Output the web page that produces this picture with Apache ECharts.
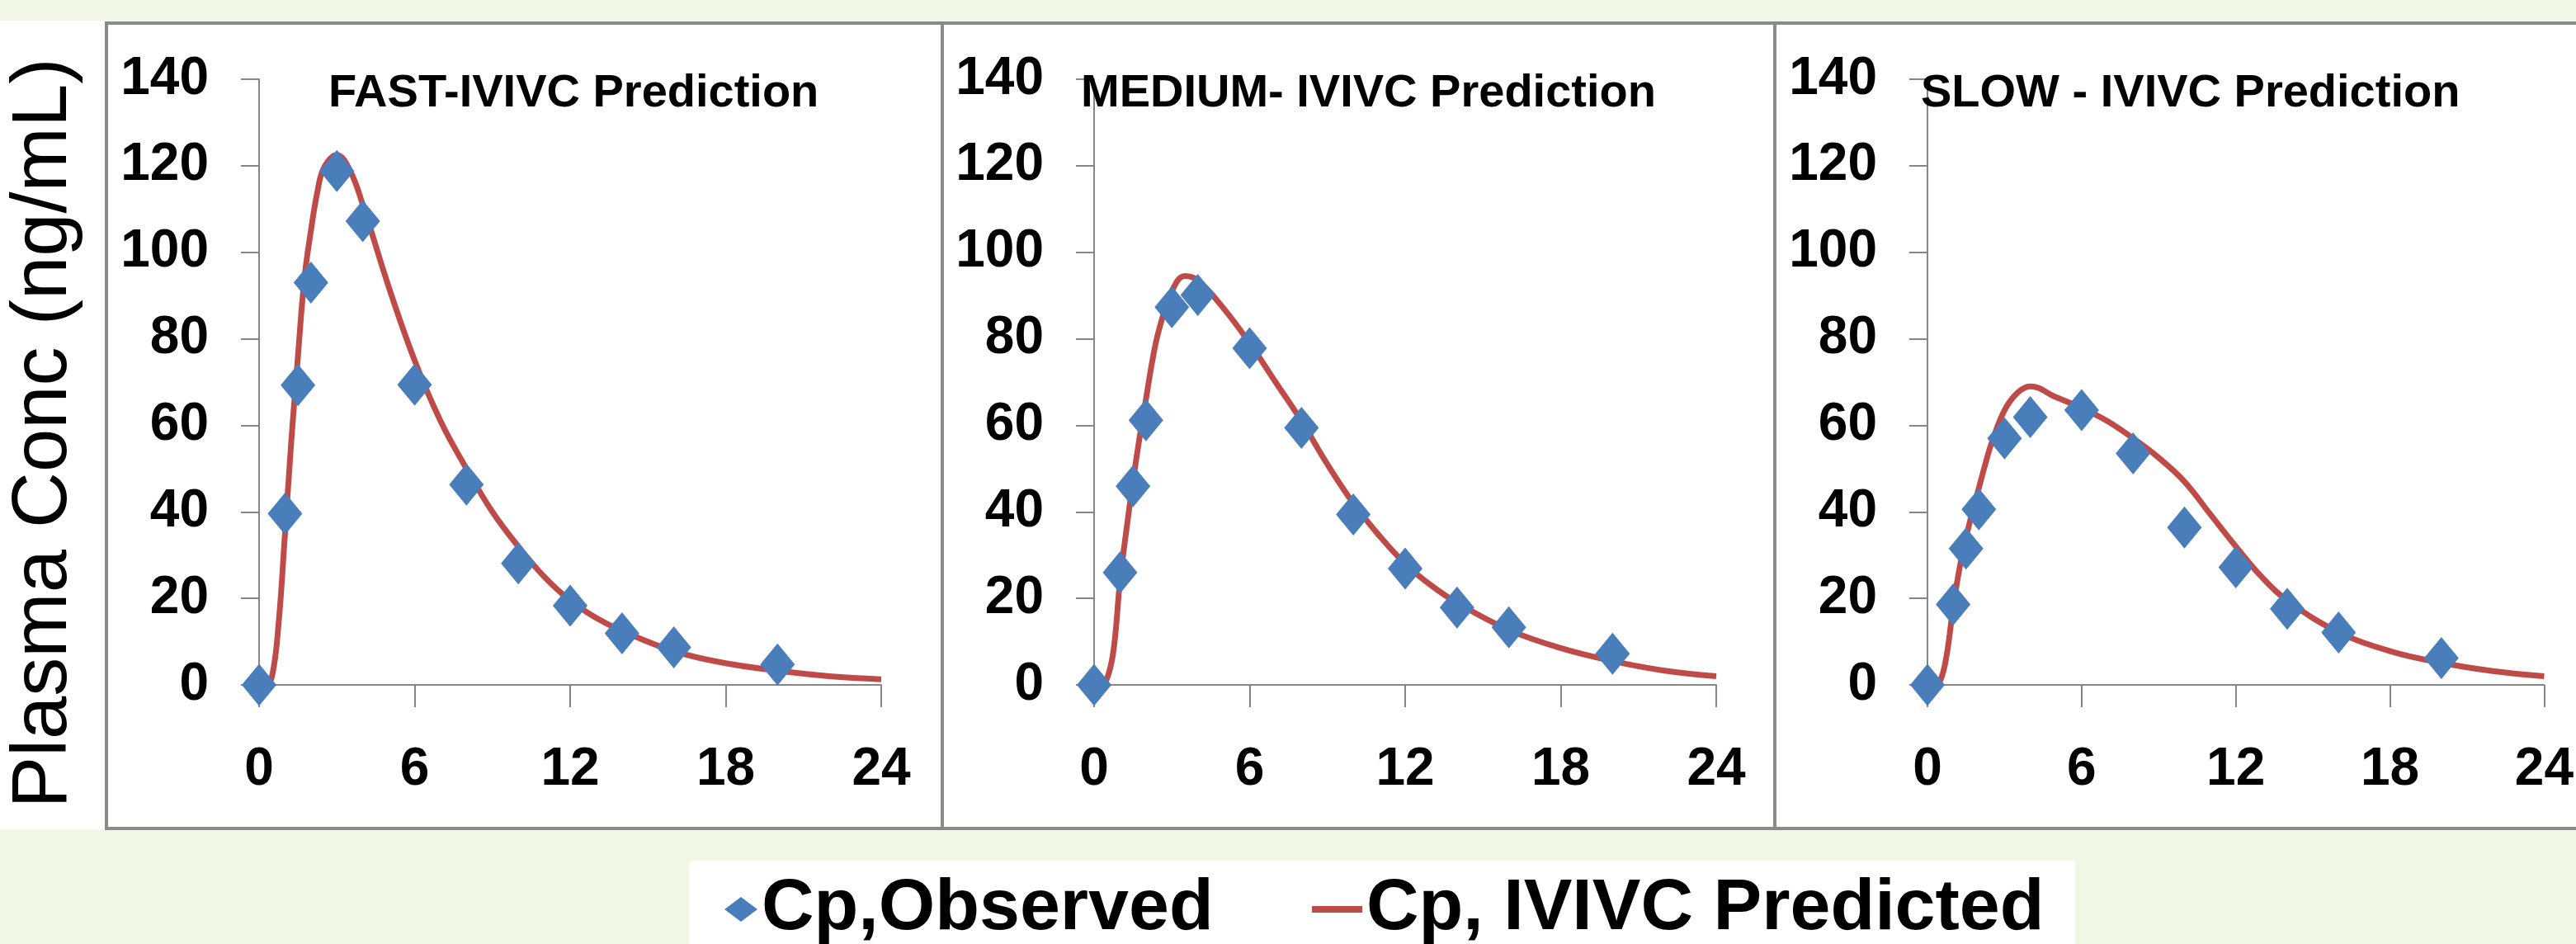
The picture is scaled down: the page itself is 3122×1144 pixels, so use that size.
<!DOCTYPE html>
<html>
<head>
<meta charset="utf-8">
<script src="https://cdn.jsdelivr.net/npm/echarts@6/dist/echarts.min.js"></script>
<style>html,body{margin:0;padding:0;background:#f0f7e5}#c{width:3122px;height:1144px}</style>
</head>
<body>
<div id="c"></div>
<script>
// ---- data ----
const panelTitles = ['FAST-IVIVC Prediction', 'MEDIUM- IVIVC Prediction', 'SLOW - IVIVC Prediction'];
const xTickLabels = [0, 6, 12, 18, 24];
const yTickLabels = [0, 20, 40, 60, 80, 100, 120, 140];
const obsTimes = [0, 1, 1.5, 2, 3, 4, 6, 8, 10, 12, 14, 16, 20];
const fastObs   = [0, 39.6, 69.3, 93, 118.8, 107.2, 69.4, 46.3, 28.1, 18.3, 11.9, 8.7, 4.7];
const mediumObs = [0, 26, 45.9, 61.2, 87.3, 90.1, 77.8, 59.4, 39.4, 26.9, 17.9, 13.3, 7.2];
const slowObs   = [0, 18.6, 31.5, 40.6, 57, 61.9, 63.5, 53.5, 36.4, 27.2, 17.6, 12.1, 6.2];
const predTimes  = [0, 0.25, 0.5, 0.75, 1, 1.25, 1.5, 1.75, 2, 2.25, 2.5, 3, 3.5, 4, 5, 6, 7, 8, 9, 10, 11, 12, 13, 14, 16, 18, 20, 22, 24];
const fastPred   = [0, 0, 2, 14, 35, 57, 76, 94, 105, 114, 119.5, 122.5, 119, 111, 92, 75, 61, 50, 40, 32, 25, 19.5, 15.5, 12.5, 7.8, 5, 3.3, 2.0, 1.3];
const mediumPred = [0, 0, 1.5, 8, 24, 36, 47, 57, 66, 75, 82, 91, 94.5, 93.5, 87, 79, 70, 61, 51, 42, 34.5, 28, 23, 19, 12.7, 8.5, 5.5, 3.3, 2.0];
const slowPred   = [0, 0, 1, 7, 18, 27, 34, 40, 45.5, 51, 56, 63.5, 67.5, 69, 66.5, 64, 61, 57, 52.5, 47, 39.5, 32, 25, 19.5, 12.2, 7.8, 5.1, 3.2, 2.0];
const obsName = 'Cp,Observed';
const predName = 'Cp, IVIVC Predicted';
const yAxisTitle = 'Plasma Conc (ng/mL)';

// ---- chart ----
const FONT = "'Liberation Sans',Arial,sans-serif";
const obsSets = [fastObs, mediumObs, slowObs];
const predSets = [fastPred, mediumPred, slowPred];
const gridLefts = [314, 1326, 2336];
const titleLefts = [398, 1310, 2328];
const AX = '#868686';

const grids = gridLefts.map(l => ({left: l, top: 96, width: 754, height: 734}));
const xAxes = gridLefts.map((_, i) => ({
  gridIndex: i, type: 'value', min: xTickLabels[0], max: xTickLabels[xTickLabels.length - 1],
  interval: xTickLabels[1] - xTickLabels[0],
  axisLine: {show: true, onZero: false, lineStyle: {color: AX, width: 2}},
  axisTick: {show: true, length: 27, lineStyle: {color: AX, width: 2}},
  splitLine: {show: false},
  axisLabel: {fontFamily: FONT, fontWeight: 'bold', fontSize: 64, color: '#000', margin: 71}
}));
const yAxes = gridLefts.map((_, i) => ({
  gridIndex: i, type: 'value', min: yTickLabels[0], max: yTickLabels[yTickLabels.length - 1],
  interval: yTickLabels[1] - yTickLabels[0],
  axisLine: {show: true, onZero: false, lineStyle: {color: AX, width: 2}},
  axisTick: {show: true, length: 22, lineStyle: {color: AX, width: 2}},
  splitLine: {show: false},
  axisLabel: {fontFamily: FONT, fontWeight: 'bold', fontSize: 64, color: '#000', margin: 61}
}));
const series = [];
for (let i = 0; i < 3; i++) {
  series.push({
    type: 'line', name: predName, xAxisIndex: i, yAxisIndex: i,
    data: predTimes.map((t, k) => [t, predSets[i][k]]),
    smooth: 0.4, symbol: 'none', showSymbol: false,
    lineStyle: {color: '#be4b48', width: 7}, itemStyle: {color: '#be4b48'},
    z: 2, animation: false
  });
  series.push({
    type: 'scatter', name: obsName, xAxisIndex: i, yAxisIndex: i,
    data: obsTimes.map((t, k) => [t, obsSets[i][k]]),
    symbol: 'diamond', symbolSize: [42, 51],
    itemStyle: {color: '#4a7ebb', opacity: 1},
    z: 3, animation: false
  });
}
const legendText = {fontFamily: FONT, fontWeight: 'bold', fontSize: 88, color: '#000'};
const option = {
  backgroundColor: '#f0f7e5',
  animation: false,
  grid: grids, xAxis: xAxes, yAxis: yAxes, series: series,
  title: panelTitles.map((t, i) => ({
    text: t, left: titleLefts[i], top: 86, padding: 0,
    textStyle: {fontFamily: FONT, fontWeight: 'bold', fontSize: 56, color: '#000'}
  })),
  legend: [
    {data: [obsName], left: 878, top: 1058, padding: 0, itemWidth: 40, itemHeight: 30, icon: 'diamond',
     selectedMode: false, textStyle: legendText},
    {data: [predName], left: 1590, top: 1058, padding: 0, itemWidth: 61, itemHeight: 8, icon: 'rect',
     selectedMode: false, textStyle: legendText}
  ],
  graphic: [
    {type: 'rect', silent: true, z: -10, shape: {x: 0, y: 25, width: 129, height: 980}, style: {fill: '#ffffff'}},
    {type: 'rect', silent: true, z: -9, shape: {x: 129, y: 28, width: 1013, height: 976}, style: {fill: '#ffffff', stroke: '#8a8a8a', lineWidth: 4}},
    {type: 'rect', silent: true, z: -9, shape: {x: 1142, y: 28, width: 1009, height: 976}, style: {fill: '#ffffff', stroke: '#8a8a8a', lineWidth: 4}},
    {type: 'rect', silent: true, z: -9, shape: {x: 2151, y: 28, width: 1030, height: 976}, style: {fill: '#ffffff', stroke: '#8a8a8a', lineWidth: 4}},
    {type: 'rect', silent: true, z: -10, shape: {x: 835, y: 1043, width: 1680, height: 120}, style: {fill: '#ffffff'}},
    {type: 'text', silent: true, x: 54, y: 525, rotation: Math.PI / 2,
     style: {text: yAxisTitle, fontFamily: FONT, fontSize: 94, fontWeight: 'normal', fill: '#000',
             align: 'center', verticalAlign: 'middle', textAlign: 'center', textVerticalAlign: 'middle'}}
  ]
};
const chart = echarts.init(document.getElementById('c'), null, {renderer: 'canvas'});
chart.setOption(option);
</script>
</body>
</html>
